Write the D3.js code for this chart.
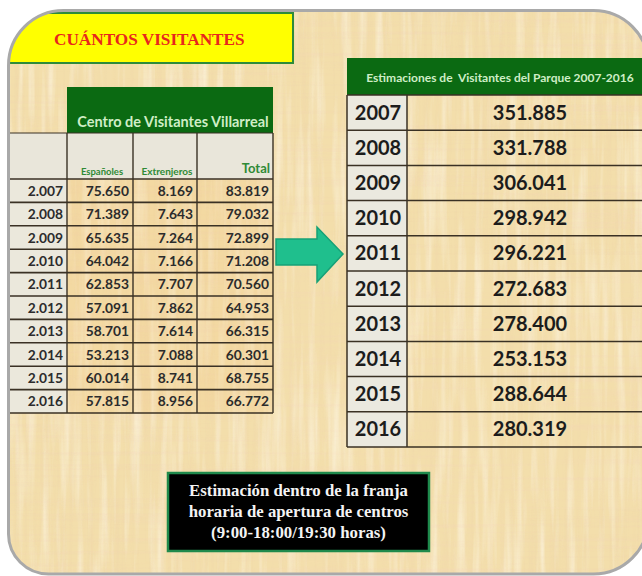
<!DOCTYPE html>
<html>
<head>
<meta charset="utf-8">
<script src="https://cdn.jsdelivr.net/npm/d3@7"></script>
<style>
html, body { margin: 0; background: #fff; }
svg { display: block; }
text { white-space: pre; }
</style>
</head>
<body>
<div id="chart"></div>
<script>

// Left table: Centro de Visitantes Villarreal
var years = ["2.007","2.008","2.009","2.010","2.011","2.012","2.013","2.014","2.015","2.016"];
var espanoles   = [75650, 71389, 65635, 64042, 62853, 57091, 58701, 53213, 60014, 57815];
var extranjeros = [8169, 7643, 7264, 7166, 7707, 7862, 7614, 7088, 8741, 8956];
var totales     = [83819, 79032, 72899, 71208, 70560, 64953, 66315, 60301, 68755, 66772];
var subHeaders  = ["Españoles", "Extrenjeros", "Total"];

// Right table: park estimates
var estYears = ["2007","2008","2009","2010","2011","2012","2013","2014","2015","2016"];
var estimaciones = [351885, 331788, 306041, 298942, 296221, 272683, 278400, 253153, 288644, 280319];

var title = "CUÁNTOS VISITANTES";
var leftTitle = "Centro de Visitantes Villarreal";
var rightTitle = "Estimaciones de  Visitantes del Parque 2007-2016";
var note = ["Estimación dentro de la franja", "horaria de apertura de centros", "(9:00-18:00/19:30 horas)"];

var W = 642, H = 576;
var sans = "Lato, 'Open Sans', sans-serif";
var serif = "'Liberation Serif', 'DejaVu Serif', serif";
var es = d3.formatLocale({decimal: ",", thousands: ".", grouping: [3], currency: ["", "€"]});
var fmt = es.format(",d");

var svg = d3.select("#chart").append("svg")
    .attr("width", W).attr("height", H);

// rounded rect with a radius for every corner
function roundRect(x, y, w, h, tl, tr, br, bl) {
  var p = d3.path();
  p.moveTo(x + tl, y);
  p.lineTo(x + w - tr, y);
  p.arcTo(x + w, y, x + w, y + tr, tr);
  p.lineTo(x + w, y + h - br);
  p.arcTo(x + w, y + h, x + w - br, y + h, br);
  p.lineTo(x + bl, y + h);
  p.arcTo(x, y + h, x, y + h - bl, bl);
  p.lineTo(x, y + tl);
  p.arcTo(x, y, x + tl, y, tl);
  p.closePath();
  return p.toString();
}

var frame = roundRect(8.5, 10.5, 640, 563.5, 55, 55, 55, 40);

var defs = svg.append("defs");
defs.append("clipPath").attr("id", "frameClip").append("path").attr("d", frame);

// papyrus fibres
function fibre(id, freq, seed, rgb, k, b) {
  var f = defs.append("filter").attr("id", id)
      .attr("x", 0).attr("y", 0).attr("width", "100%").attr("height", "100%");
  f.append("feTurbulence").attr("type", "fractalNoise")
      .attr("baseFrequency", freq).attr("numOctaves", 3).attr("seed", seed);
  f.append("feColorMatrix").attr("type", "matrix")
      .attr("values", "0 0 0 0 " + rgb[0] + " 0 0 0 0 " + rgb[1] + " 0 0 0 0 " + rgb[2] + " " + k + " 0 0 0 " + b);
}
fibre("fibV", "0.2 0.004", 4, [0.85, 0.64, 0.4], 1.5, -0.68);
fibre("fibH", "0.004 0.25", 9, [0.9, 0.62, 0.5], 1.5, -0.72);
fibre("fibL", "0.12 0.008", 2, [1, 0.97, 0.88], 1.6, -0.7);

var g = svg.append("g").attr("clip-path", "url(#frameClip)");
g.append("rect").attr("width", W).attr("height", H).attr("fill", "#f3deab");
g.append("rect").attr("width", W).attr("height", H).attr("filter", "url(#fibL)").attr("opacity", 0.7);
g.append("rect").attr("width", W).attr("height", H).attr("filter", "url(#fibV)").attr("opacity", 0.4);
g.append("rect").attr("width", W).attr("height", H).attr("filter", "url(#fibH)").attr("opacity", 0.3);

// title box
g.append("rect").attr("x", 6).attr("y", 13).attr("width", 287).attr("height", 50)
    .attr("fill", "#ffff00").attr("stroke", "#2e8b3a").attr("stroke-width", 2);
g.append("text").attr("x", 54).attr("y", 45)
    .attr("font-family", serif).attr("font-weight", "bold").attr("font-size", 17.2)
    .attr("fill", "#e8261c").text(title);

// ---- left table
var colEdges = [8, 67, 133, 197, 273];
var line = "#3a3124";
var yL = d3.scaleBand().domain(years).range([179, 413]);
var lt = g.append("g");

lt.append("rect").attr("x", colEdges[1]).attr("y", 87)
    .attr("width", colEdges[4] - colEdges[1]).attr("height", 46).attr("fill", "#0b6a12");
lt.append("text").attr("x", (colEdges[1] + colEdges[4]) / 2 + 3).attr("y", 127)
    .attr("text-anchor", "middle").attr("font-family", sans).attr("font-weight", "bold")
    .attr("font-size", 14.5).attr("fill", "#cfeec6").text(leftTitle);

// sub header row and label column
lt.append("rect").attr("x", colEdges[0]).attr("y", 133)
    .attr("width", colEdges[4] - colEdges[0]).attr("height", 46).attr("fill", "#e9e6da");
lt.append("rect").attr("x", colEdges[0]).attr("y", 179)
    .attr("width", colEdges[1] - colEdges[0]).attr("height", yL.range()[1] - 179).attr("fill", "#ebe8dc");
lt.append("rect").attr("x", colEdges[1]).attr("y", 179)
    .attr("width", colEdges[4] - colEdges[1]).attr("height", yL.range()[1] - 179)
    .attr("fill", "#f6c27a").attr("opacity", 0.18);

lt.selectAll("text.sub").data(subHeaders).enter().append("text")
    .attr("class", "sub")
    .attr("x", function(d, i) { return i < 2 ? (colEdges[i + 1] + colEdges[i + 2]) / 2 + 2 : colEdges[4] - 3; })
    .attr("y", function(d, i) { return i < 2 ? 175 : 173; })
    .attr("text-anchor", function(d, i) { return i < 2 ? "middle" : "end"; })
    .attr("font-family", sans).attr("font-weight", "bold")
    .attr("font-size", function(d, i) { return i == 0 ? 9.5 : i == 1 ? 10 : 13; })
    .attr("fill", "#2f8a36").text(function(d) { return d; });

// grid
var hl = [133].concat(years.map(function(d) { return yL(d); })).concat([yL.range()[1]]);
lt.selectAll("line.h").data(hl).enter().append("line")
    .attr("x1", colEdges[0]).attr("x2", colEdges[4])
    .attr("y1", function(d) { return d; }).attr("y2", function(d) { return d; })
    .attr("stroke", line).attr("stroke-width", function(d, i) { return i == 0 ? 1 : 1.6; });
lt.selectAll("line.v").data(colEdges.slice(1)).enter().append("line")
    .attr("x1", function(d) { return d; }).attr("x2", function(d) { return d; })
    .attr("y1", 133).attr("y2", yL.range()[1])
    .attr("stroke", line).attr("stroke-width", 1.4);

var rowsL = lt.selectAll("g.row").data(years).enter().append("g")
    .attr("transform", function(d) { return "translate(0," + (yL(d) + yL.bandwidth() / 2 + 5) + ")"; });
var cols = [years, espanoles, extranjeros, totales];
cols.forEach(function(arr, c) {
  rowsL.append("text")
      .attr("x", colEdges[c + 1] - 4)
      .attr("text-anchor", "end").attr("font-family", sans).attr("font-weight", "bold")
      .attr("font-size", 13.8).attr("fill", "#2c2c2c")
      .text(function(d, i) { return c == 0 ? arr[i] : fmt(arr[i]); });
});

// ---- arrow
var ax = [276, 317, 343], ay = [227, 239, 254, 265, 282];
g.append("path")
    .attr("d", d3.line()([[ax[0], ay[1]], [ax[1], ay[1]], [ax[1], ay[0]], [ax[2], ay[2]],
                          [ax[1], ay[4]], [ax[1], ay[3]], [ax[0], ay[3]]]) + "Z")
    .attr("fill", "#1fbf8d").attr("stroke", "#16a177").attr("stroke-width", 1.5);

// ---- right table
var rx = [347, 407, 652];
var yR = d3.scaleBand().domain(estYears).range([95, 447]);
var rt = g.append("g");
rt.append("rect").attr("x", rx[0]).attr("y", 58).attr("width", rx[2] - rx[0]).attr("height", 37)
    .attr("fill", "#0b6a12");
rt.append("text").attr("x", 500).attr("y", 82).attr("text-anchor", "middle")
    .attr("font-family", sans).attr("font-weight", "bold").attr("font-size", 12)
    .attr("fill", "#cfeec6").text(rightTitle);
rt.append("rect").attr("x", rx[0]).attr("y", 95).attr("width", rx[1] - rx[0]).attr("height", 352)
    .attr("fill", "#ebe9df");

rt.selectAll("line.h").data(estYears.map(function(d) { return yR(d); }).concat([yR.range()[1]]))
  .enter().append("line")
    .attr("x1", rx[0]).attr("x2", rx[2])
    .attr("y1", function(d) { return d; }).attr("y2", function(d) { return d; })
    .attr("stroke", line).attr("stroke-width", 1.5);
rt.selectAll("line.v").data(rx.slice(0, 2)).enter().append("line")
    .attr("x1", function(d) { return d; }).attr("x2", function(d) { return d; })
    .attr("y1", 95).attr("y2", yR.range()[1])
    .attr("stroke", line).attr("stroke-width", 1.5);

var rowsR = rt.selectAll("g.row").data(estYears).enter().append("g")
    .attr("transform", function(d) { return "translate(0," + (yR(d) + yR.bandwidth() / 2 + 7) + ")"; });
rowsR.append("text").attr("x", (rx[0] + rx[1]) / 2 + 1).attr("text-anchor", "middle")
    .attr("font-family", sans).attr("font-weight", "bold").attr("font-size", 20)
    .attr("fill", "#1c1c1c").text(function(d) { return d; });
rowsR.append("text").attr("x", 530).attr("text-anchor", "middle")
    .attr("font-family", sans).attr("font-weight", "bold").attr("font-size", 20)
    .attr("fill", "#1c1c1c").text(function(d, i) { return fmt(estimaciones[i]); });

// ---- note box
g.append("rect").attr("x", 168).attr("y", 473).attr("width", 261).attr("height", 78)
    .attr("fill", "#000").attr("stroke", "#1f8a4c").attr("stroke-width", 2.5);
g.selectAll("text.note").data(note).enter().append("text")
    .attr("x", 298.5).attr("y", function(d, i) { return 496 + i * 21; })
    .attr("text-anchor", "middle").attr("font-family", serif).attr("font-weight", "bold")
    .attr("font-size", 16.8).attr("fill", "#f4f4f4").text(function(d) { return d; });

// frame border
svg.append("path").attr("d", frame).attr("fill", "none")
    .attr("stroke", "#a9a9a9").attr("stroke-width", 3);

</script>
</body>
</html>
